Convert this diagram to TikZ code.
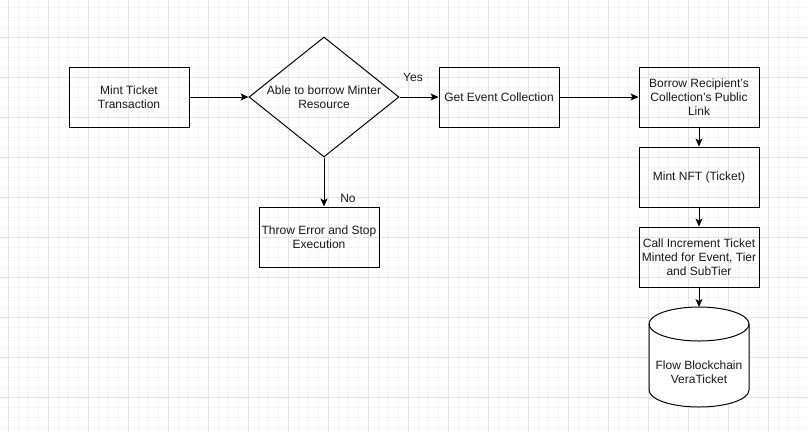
\documentclass[tikz,border=0pt]{standalone}
\usepackage{fontspec}
\setmainfont{Liberation Sans}
\usetikzlibrary{shapes.geometric,arrows.meta}
\begin{document}
\begin{tikzpicture}[x=1pt,y=-1pt,
  every node/.style={font=\fontsize{12}{14}\selectfont, text=black!90},
  procbox/.style={draw=black, line width=1pt, rectangle, minimum width=120pt, minimum height=60pt, inner sep=0pt, align=center},
  decbox/.style={draw=black, line width=1pt, diamond, minimum width=150pt, minimum height=120pt, inner sep=0pt},
  txt/.style={align=center, inner sep=0pt},
  flow/.style={line width=1pt, -{Stealth[length=8pt,width=7pt,inset=2pt]}},
  minorgrid/.style={draw=black!4, line width=0.7pt},
  majorgrid/.style={draw=black!11, line width=0.8pt}
]
\useasboundingbox (0,0) rectangle (808,432);
\fill[white] (0,0) rectangle (808,432);
% grid
\foreach \gx in {8.5,18.5,...,808} {\draw[minorgrid] (\gx,0) -- (\gx,432);}
\foreach \gy in {7,17,...,432} {\draw[minorgrid] (0,\gy) -- (808,\gy);}
\foreach \gx in {8.5,48.5,...,808} {\draw[majorgrid] (\gx,0) -- (\gx,432);}
\foreach \gy in {37,77,...,432} {\draw[majorgrid] (0,\gy) -- (808,\gy);}

% nodes
\node[procbox] (mint) at (129,97) {Mint Ticket\\Transaction};
\node[decbox] (dia) at (324,97) {};
\node[txt] (diatext) at (324,97) {Able to borrow Minter\\Resource};
\node[procbox] (throw) at (319,237) {Throw Error and Stop\\Execution};
\node[procbox] (get) at (499,97) {Get Event Collection};
\node[procbox] (borrow) at (699,97) {Borrow Recipient's\\Collection's Public\\Link};
\node[procbox] (nft) at (699,177) {Mint NFT (Ticket)};
\node[procbox] (call) at (699,257) {Call Increment Ticket\\Minted for Event, Tier\\and SubTier};

% cylinder
\draw[line width=1pt, fill=white] (649,324) -- (649,390) arc[start angle=180, end angle=0, x radius=50, y radius=17] -- (749,324) arc[start angle=0, end angle=-180, x radius=50, y radius=17] -- cycle;
\draw[line width=1pt] (649,324) arc[start angle=180, end angle=0, x radius=50, y radius=17];
\coordinate (cyltop) at (699,307);
\node[txt] (db) at (699,372) {Flow Blockchain\\VeraTicket};

% labels
\node[txt] (yes) at (413,77) {Yes};
\node[txt] (no) at (348,198) {No};

% connectors
\draw[flow] (mint.east) -- (dia.west);
\draw[flow] (dia.east) -- (get.west);
\draw[flow] (get.east) -- (borrow.west);
\draw[flow] (dia.south) -- (dia.south |- throw.north);
\draw[flow] (borrow.south) -- (nft.north);
\draw[flow] (nft.south) -- (call.north);
\draw[flow] (call.south) -- (cyltop);
\end{tikzpicture}
\end{document}
